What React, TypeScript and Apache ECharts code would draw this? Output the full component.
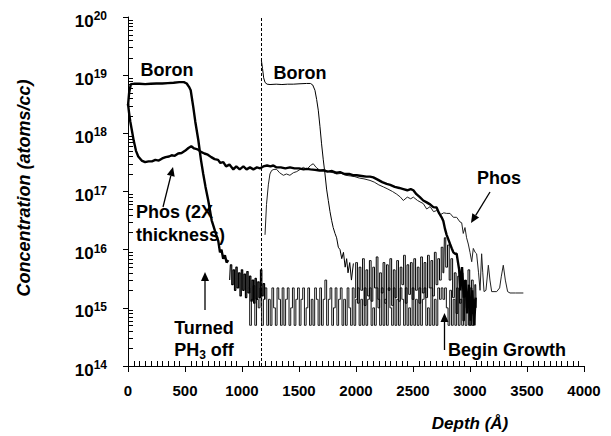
import React, { useEffect, useRef } from "react";
import * as echarts from "echarts";

// ---- axis data ----
const xMin = 0;
const xMax = 4000;
const xInterval = 500;
const xMinorStep = 50;
const yMin = 1e14;
const yMax = 1e20;
const decades = [14, 15, 16, 17, 18, 19];
const minorFactors = [2, 3, 4, 5, 6, 7, 8, 9];
const growthInterfaceDepth = 1167;

// ---- 2X thickness sample ----
const boronThickProfile: number[][] = [
  [0, 3e18], [10, 5e18], [25, 7e18], [50, 7.1e18], [100, 7.1e18], [150, 7e18], [200, 7.1e18],
  [250, 7.2e18], [300, 7.2e18], [350, 7.3e18], [400, 7.4e18], [450, 7.6e18], [490, 7.6e18],
  [515, 7.2e18], [535, 6.3e18], [550, 5.5e18], [573, 2.8e18], [590, 1.6e18], [617, 7.6e17],
  [640, 3.5e17], [660, 2e17], [680, 1.2e17], [704, 7e16], [734, 3.2e16], [763, 2.1e16],
  [792, 1.4e16], [807, 9e15], [820, 1e16], [835, 7e15], [850, 8e15], [865, 6e15], [880, 6.6e15],
];
const boronThickTail: number[][] = [
  [892, 3e15], [904, 5.5e15], [916, 2.5e15], [928, 4.5e15], [940, 2e15], [952, 5e15], [964, 2.2e15],
  [976, 4e15], [988, 1.6e15], [1000, 4.5e15], [1012, 2e15], [1024, 3.8e15], [1036, 1.5e15],
  [1048, 4.2e15], [1060, 1.8e15], [1072, 3.5e15], [1084, 1.3e15], [1096, 3e15], [1108, 1.2e15],
  [1120, 3.2e15], [1132, 1.4e15], [1144, 2.8e15], [1156, 1.5e15], [1168, 4.5e15], [1180, 1.6e15],
  [1192, 2.6e15], [1204, 1.4e15],
];
const phosThick: number[][] = [
  [0, 3.2e18], [10, 2.2e18], [20, 1.6e18], [35, 1.1e18], [50, 7.5e17], [70, 5e17], [90, 4e17],
  [120, 3.4e17], [150, 3.2e17], [180, 3.3e17], [210, 3.3e17], [240, 3.5e17], [270, 3.4e17],
  [300, 3.7e17], [330, 3.9e17], [360, 4e17], [383, 4.2e17], [410, 4.1e17], [440, 4.5e17],
  [470, 4.6e17], [500, 5e17], [530, 5.6e17], [555, 6e17], [580, 5.5e17], [610, 5.3e17],
  [640, 4.8e17], [670, 4.5e17], [700, 4.3e17], [730, 3.9e17], [760, 3.6e17], [790, 3.5e17],
  [810, 3.1e17], [836, 3.2e17], [860, 2.7e17], [890, 2.9e17], [924, 2.4e17], [950, 2.7e17],
  [980, 2.4e17], [1012, 2.7e17], [1040, 2.4e17], [1070, 2.6e17], [1100, 2.4e17], [1130, 2.6e17],
  [1160, 2.5e17], [1187, 2.7e17], [1220, 2.8e17], [1250, 2.7e17], [1275, 2.8e17], [1300, 2.6e17],
  [1340, 2.6e17], [1380, 2.5e17], [1421, 2.6e17], [1460, 2.5e17], [1500, 2.5e17], [1540, 2.4e17],
  [1567, 2.45e17], [1600, 2.4e17], [1640, 2.35e17], [1680, 2.3e17], [1713, 2.3e17], [1750, 2.2e17],
  [1790, 2.25e17], [1830, 2.1e17], [1860, 2.15e17], [1900, 2e17], [1940, 2e17], [1980, 1.9e17],
  [2006, 1.9e17], [2050, 1.85e17], [2090, 1.8e17], [2123, 1.8e17], [2152, 1.75e17], [2190, 1.6e17],
  [2230, 1.45e17], [2269, 1.35e17], [2300, 1.3e17], [2340, 1.2e17], [2380, 1.15e17], [2415, 1.1e17],
  [2450, 1.05e17], [2480, 1.1e17], [2503, 1.05e17], [2530, 9e16], [2560, 8e16], [2590, 7e16],
  [2620, 6.5e16], [2650, 6e16], [2678, 5.4e16], [2707, 5.3e16], [2730, 4.2e16], [2751, 3.6e16],
  [2766, 3.1e16], [2780, 2.3e16], [2795, 1.8e16], [2810, 1.5e16], [2825, 1.25e16], [2840, 1.05e16],
  [2854, 9e15], [2870, 8.5e15], [2883, 8.5e15], [2895, 6e15], [2905, 4.5e15], [2915, 2e15],
  [2930, 5e15], [2945, 1.5e15], [2960, 3e15], [2975, 8e14], [2990, 2.5e15], [3005, 6e14],
  [3020, 2e15], [3035, 5e14], [3050, 1.5e15],
];
const floorNoise: number[][] = [
  [1060, 2.2e15], [1075, 5e14], [1090, 1.4e15], [1105, 2.4e15], [1120, 5e14], [1135, 1.4e15],
  [1150, 1e15], [1165, 2.2e15], [1180, 5e14], [1195, 1.4e15], [1210, 2.2e15], [1225, 5e14],
  [1240, 1.4e15], [1255, 5e14], [1270, 2.2e15], [1285, 1e15], [1300, 5e14], [1315, 2.2e15],
  [1330, 1.4e15], [1345, 5e14], [1360, 2.2e15], [1375, 5e14], [1390, 1.4e15], [1405, 2.2e15],
  [1420, 5e14], [1435, 1e15], [1450, 2.2e15], [1465, 5e14], [1480, 1.4e15], [1495, 2.2e15],
  [1510, 5e14], [1525, 1.4e15], [1540, 2.2e15], [1555, 5e14], [1570, 1e15], [1585, 2.2e15],
  [1600, 5e14], [1615, 1.4e15], [1630, 5e14], [1645, 2.2e15], [1660, 1.4e15], [1675, 5e14],
  [1690, 2.2e15], [1705, 5e14], [1720, 1.4e15], [1735, 3e15], [1750, 5e14], [1765, 1.4e15],
  [1780, 2.2e15], [1795, 5e14], [1810, 1e15], [1825, 2.2e15], [1840, 5e14], [1855, 1.4e15],
  [1870, 2.2e15], [1885, 5e14], [1900, 1.4e15], [1915, 5e14], [1930, 2.2e15], [1945, 1e15],
  [1960, 5e14], [1975, 2.2e15], [1990, 5e14], [2005, 1.4e15], [2020, 2.2e15], [2035, 5e14],
  [2050, 1.4e15], [2065, 5e14], [2080, 2.2e15], [2095, 5e14], [2110, 1.4e15], [2125, 2.2e15],
  [2140, 5e14], [2155, 1e15], [2170, 5e14], [2185, 2.2e15], [2200, 1.4e15], [2215, 5e14],
  [2230, 2.2e15], [2245, 5e14], [2260, 1.4e15], [2275, 5e14], [2290, 2.2e15], [2305, 1e15],
  [2320, 5e14], [2335, 2.2e15], [2350, 5e14], [2365, 1.4e15], [2380, 5e14], [2395, 2.2e15],
  [2410, 1.4e15], [2425, 5e14], [2440, 2.2e15], [2455, 5e14], [2470, 1e15], [2485, 5e14],
  [2500, 2.2e15], [2515, 5e14], [2530, 1.4e15], [2545, 5e14], [2560, 2.2e15], [2575, 5e14],
  [2590, 1.4e15], [2605, 2.2e15], [2620, 5e14], [2635, 1e15], [2650, 5e14], [2665, 2.2e15],
  [2680, 5e14], [2695, 1.4e15], [2710, 5e14], [2725, 2.2e15], [2740, 1.4e15], [2755, 2.2e15],
  [2770, 1.4e15], [2785, 2.2e15], [2800, 1e15], [2815, 5e14], [2830, 2e15], [2845, 5e14],
  [2860, 1.4e15], [2875, 5e14], [2890, 2.2e15], [2905, 5e14], [2920, 1.4e15], [2935, 5e14],
  [2950, 2.2e15], [2965, 5e14], [2980, 1.4e15], [2995, 5e14], [3010, 2.2e15], [3025, 5e14],
  [3040, 1.4e15], [3050, 5e14],
];

// ---- 1X sample ----
const boronThinProfile: number[][] = [
  [1170, 1.8e19], [1180, 1.3e19], [1190, 9e18], [1202, 7.5e18], [1220, 7e18], [1246, 6.9e18],
  [1300, 7e18], [1350, 6.9e18], [1400, 7e18], [1450, 7e18], [1500, 7.1e18], [1567, 7.2e18],
  [1600, 7.2e18], [1620, 6.8e18], [1640, 5.5e18], [1655, 3.8e18], [1669, 2.5e18], [1684, 1.3e18],
  [1698, 6.6e17], [1713, 3.5e17], [1728, 2e17], [1742, 1.1e17], [1757, 7e16], [1772, 4.5e16],
  [1786, 3.2e16], [1800, 2.4e16], [1816, 1.9e16], [1830, 1.6e16], [1845, 1.1e16], [1860, 1e16],
  [1875, 7e15], [1890, 9e15], [1905, 5e15], [1918, 7e15], [1930, 4e15], [1945, 6e15],
  [1960, 3e15], [1977, 5.8e15],
];
const boronThinTail: number[][] = [
  [1990, 1.5e15], [2005, 6e15], [2020, 1.2e15], [2035, 5e15], [2050, 2e15], [2065, 7e15],
  [2080, 1.1e15], [2095, 4.5e15], [2110, 1.6e15], [2125, 6.5e15], [2140, 1.3e15], [2155, 5e15],
  [2170, 2.2e15], [2185, 7.5e15], [2200, 1e15], [2215, 4e15], [2230, 1.8e15], [2245, 6e15],
  [2260, 1.2e15], [2275, 5.5e15], [2290, 2e15], [2305, 7e15], [2320, 1.1e15], [2335, 4.5e15],
  [2350, 1.5e15], [2365, 6.5e15], [2380, 1.3e15], [2395, 5e15], [2410, 2.5e15], [2425, 8e15],
  [2440, 1.2e15], [2455, 5.5e15], [2470, 1.7e15], [2485, 6e15], [2500, 1.4e15], [2515, 7e15],
  [2530, 2e15], [2545, 5e15], [2560, 1.2e15], [2575, 7.5e15], [2590, 1.8e15], [2605, 6e15],
  [2620, 1.5e15], [2635, 8e15], [2650, 2.2e15], [2665, 6.5e15], [2680, 1.6e15], [2695, 9e15],
  [2710, 2.5e15], [2725, 7e15], [2740, 3e15], [2755, 1.1e16], [2770, 4e15], [2780, 1.6e16],
  [2795, 5e15], [2810, 1.2e16], [2825, 3e15], [2840, 7e15], [2855, 1.5e15], [2870, 4e15],
  [2885, 8e14], [2900, 3.5e15], [2915, 1.2e15], [2930, 4e15], [2945, 6e14], [2960, 3e15],
  [2975, 1e15], [2990, 4.5e15], [3005, 5e14], [3020, 3e15], [3035, 8e14], [3050, 2.5e15],
  [3058, 1e15],
];
const phosThin: number[][] = [
  [1202, 1.8e16], [1215, 6e16], [1231, 1.3e17], [1245, 2e17], [1260, 2.3e17], [1280, 2.4e17],
  [1304, 2.4e17], [1330, 2.1e17], [1363, 1.9e17], [1390, 2e17], [1420, 1.9e17], [1450, 2.1e17],
  [1480, 2.2e17], [1510, 2.4e17], [1538, 2.6e17], [1570, 2.4e17], [1600, 2.8e17], [1625, 3e17],
  [1650, 2.6e17], [1684, 2.3e17], [1720, 2.4e17], [1760, 2.2e17], [1800, 2.1e17], [1830, 2e17],
  [1870, 2.05e17], [1910, 1.9e17], [1950, 1.85e17], [1990, 1.8e17], [2030, 1.7e17], [2070, 1.65e17],
  [2123, 1.55e17], [2160, 1.45e17], [2200, 1.3e17], [2240, 1.2e17], [2280, 1.1e17], [2320, 1e17],
  [2357, 9e16], [2390, 8e16], [2415, 7e16], [2450, 8e16], [2480, 7.5e16], [2503, 8e16],
  [2540, 7e16], [2570, 6.5e16], [2590, 6.2e16], [2620, 5e16], [2650, 5.5e16], [2680, 4.5e16],
  [2707, 4.7e16], [2740, 4e16], [2770, 4.3e16], [2795, 4.2e16], [2825, 4.2e16], [2854, 3.6e16],
  [2883, 3.6e16], [2912, 3e16], [2927, 2.9e16], [2941, 1.9e16], [2956, 2.4e16], [2970, 1.6e16],
  [2985, 1.25e16], [3000, 9e15], [3015, 6.2e15], [3029, 1.05e16], [3045, 9e15], [3058, 8.5e15],
  [3075, 4e15], [3088, 2e15], [3102, 8.5e15], [3112, 4e15], [3123, 1.9e15], [3140, 2e15],
  [3161, 5.4e15], [3175, 3e15], [3190, 1.9e15], [3234, 1.9e15], [3260, 2.2e15], [3275, 3.5e15],
  [3292, 5.4e15], [3310, 3e15], [3330, 1.9e15], [3351, 1.8e15], [3400, 1.8e15], [3468, 1.8e15],
];

const FONT = '"Liberation Sans", Arial, Helvetica, sans-serif';

function arrow(tail: number[], tip: number[], head = 9, half = 4) {
  const dx = tip[0] - tail[0];
  const dy = tip[1] - tail[1];
  const len = Math.sqrt(dx * dx + dy * dy);
  const ux = dx / len;
  const uy = dy / len;
  const bx = tip[0] - head * ux;
  const by = tip[1] - head * uy;
  return [
    {
      type: "line",
      shape: { x1: tail[0], y1: tail[1], x2: bx, y2: by },
      style: { stroke: "#000", lineWidth: 1.3 },
      silent: true,
    },
    {
      type: "polygon",
      shape: {
        points: [
          [tip[0], tip[1]],
          [bx - half * uy, by + half * ux],
          [bx + half * uy, by - half * ux],
        ],
      },
      style: { fill: "#000" },
      silent: true,
    },
  ];
}

function label(text: string, x: number, y: number, align = "center", extra: any = {}) {
  return {
    type: "text",
    x,
    y,
    silent: true,
    style: {
      text,
      font: `bold 18px ${FONT}`,
      fill: "#000",
      align,
      verticalAlign: "middle",
      textAlign: align,
      textVerticalAlign: "middle",
      ...extra,
    },
  };
}

export default function App() {
  const ref = useRef<HTMLDivElement>(null);

  useEffect(() => {
    if (!ref.current) return;
    const chart = echarts.init(ref.current, undefined, { renderer: "svg" });

    const thin = (name: string, data: any[], extra: any = {}) => ({
      type: "line",
      name,
      data,
      showSymbol: false,
      symbol: "none",
      silent: true,
      lineStyle: { color: "#111", width: 1 },
      ...extra,
    });

    const annotations: any[] = [
      label("Boron", 167, 70),
      label("Boron", 300, 73),
      label("Phos", 499, 178),
      label("Phos (2X", 136, 212, "left"),
      label("thickness)", 136, 235, "left"),
      label("Turned", 204, 328),
      {
        type: "text",
        x: 204,
        y: 350,
        silent: true,
        style: {
          text: "{n|PH}{s|3}{n| off}",
          align: "center",
          verticalAlign: "middle",
          textAlign: "center",
          textVerticalAlign: "middle",
          rich: {
            n: { fontFamily: FONT, fontWeight: "bold", fontSize: 18, lineHeight: 22, fill: "#000" },
            s: {
              fontFamily: FONT,
              fontWeight: "bold",
              fontSize: 12,
              lineHeight: 12,
              verticalAlign: "bottom",
              fill: "#000",
            },
          },
        },
      },
      label("Begin Growth", 448, 350, "left"),
      ...arrow([163, 207], [173, 167]),
      ...arrow([205, 310], [205, 272]),
      ...arrow([444.5, 350], [444.5, 313]),
      ...arrow([490, 192], [471, 223]),
      {
        type: "text",
        x: 24,
        y: 188,
        rotation: Math.PI / 2,
        silent: true,
        style: {
          text: "Concentration (atoms/cc)",
          font: `italic bold 18px ${FONT}`,
          fill: "#000",
          align: "center",
          verticalAlign: "middle",
          textAlign: "center",
          textVerticalAlign: "middle",
        },
      },
      {
        type: "text",
        x: 470,
        y: 423,
        silent: true,
        style: {
          text: "Depth (Å)",
          font: `italic bold 17px ${FONT}`,
          fill: "#000",
          align: "center",
          verticalAlign: "middle",
          textAlign: "center",
          textVerticalAlign: "middle",
        },
      },
    ];

    const option: any = {
      animation: false,
      backgroundColor: "#fff",
      grid: { left: 128, right: 27, top: 17, bottom: 70, containLabel: false },
      xAxis: [
        {
          type: "value",
          position: "bottom",
          min: xMin,
          max: xMax,
          interval: xInterval,
          axisLine: { show: true, lineStyle: { color: "#000", width: 1 } },
          axisTick: { show: true, inside: false, length: 6, lineStyle: { color: "#000", width: 1 } },
          minorTick: { show: false },
          axisLabel: {
            show: true,
            margin: 17,
            color: "#000",
            fontFamily: FONT,
            fontWeight: "bold",
            fontSize: 15,
            formatter: (v: number) => String(v),
          },
          splitLine: { show: false },
        },
      ],
      yAxis: [
        {
          type: "log",
          logBase: 10,
          min: yMin,
          max: yMax,
          splitNumber: 6,
          axisLine: { show: true, lineStyle: { color: "#000", width: 1 } },
          axisTick: { show: true, inside: false, length: 5, lineStyle: { color: "#000", width: 1 } },
          axisLabel: {
            margin: 21,
            color: "#000",
            padding: [8, 0, 0, 0],
            formatter: (v: number) => `{b|10}{s|${Math.round(Math.log10(v))}}`,
            rich: {
              b: { fontFamily: FONT, fontWeight: "bold", fontSize: 17, lineHeight: 22, color: "#000" },
              s: {
                fontFamily: FONT,
                fontWeight: "bold",
                fontSize: 12,
                lineHeight: 12,
                verticalAlign: "top",
                color: "#000",
              },
            },
          },
          splitLine: { show: false },
        },
      ],
      series: [
        thin("Floor noise", floorNoise, {
          step: "middle",
          markLine: {
            silent: true,
            symbol: ["none", "none"],
            label: { show: false },
            lineStyle: { color: "#000", width: 1, type: [3, 2] },
            data: [{ xAxis: growthInterfaceDepth }],
          },
        }),
        thin("Boron (1X) tail", boronThinTail, { step: "middle", lineStyle: { color: "#000", width: 1 } }),
        thin("Boron (1X)", boronThinProfile, { lineStyle: { color: "#000", width: 1 } }),
        thin("Phos (1X)", phosThin, { lineStyle: { color: "#222", width: 1 } }),
        thin("Boron (2X) tail", boronThickTail, { step: "middle", lineStyle: { color: "#000", width: 1.2 } }),
        thin("Phos (2X)", phosThick, { lineStyle: { color: "#000", width: 2.4 } }),
        thin("Boron (2X)", boronThickProfile, { lineStyle: { color: "#000", width: 2.4 } }),
      ],
      graphic: annotations,
    };

    chart.setOption(option);

    // minor ticks positioned through the chart's own axis scales
    const ticks: any[] = [];
    const toPx = (p: number[]) => chart.convertToPixel({ gridIndex: 0 } as any, p) as any;
    decades.forEach((d) =>
      minorFactors.forEach((f) => {
        const p = toPx([xMin, f * Math.pow(10, d)]);
        if (!p) return;
        const y = Math.round(p[1]) + 0.5;
        ticks.push({
          type: "line",
          silent: true,
          shape: { x1: p[0], y1: y, x2: p[0] + 5, y2: y },
          style: { stroke: "#000", lineWidth: 1 },
        });
      })
    );
    for (let x = xMin + xMinorStep; x < xMax; x += xMinorStep) {
      if (x % xInterval === 0) continue;
      const p = toPx([x, yMin]);
      if (!p) continue;
      const px = Math.round(p[0]) + 0.5;
      ticks.push({
        type: "line",
        silent: true,
        shape: { x1: px, y1: p[1], x2: px, y2: p[1] - 5 },
        style: { stroke: "#000", lineWidth: 1 },
      });
    }
    chart.setOption({ graphic: [...annotations, ...ticks] });

    return () => chart.dispose();
  }, []);

  return (
    <div
      ref={ref}
      style={{ position: "fixed", left: 0, top: 0, width: 611, height: 436, background: "#fff" }}
    />
  );
}
